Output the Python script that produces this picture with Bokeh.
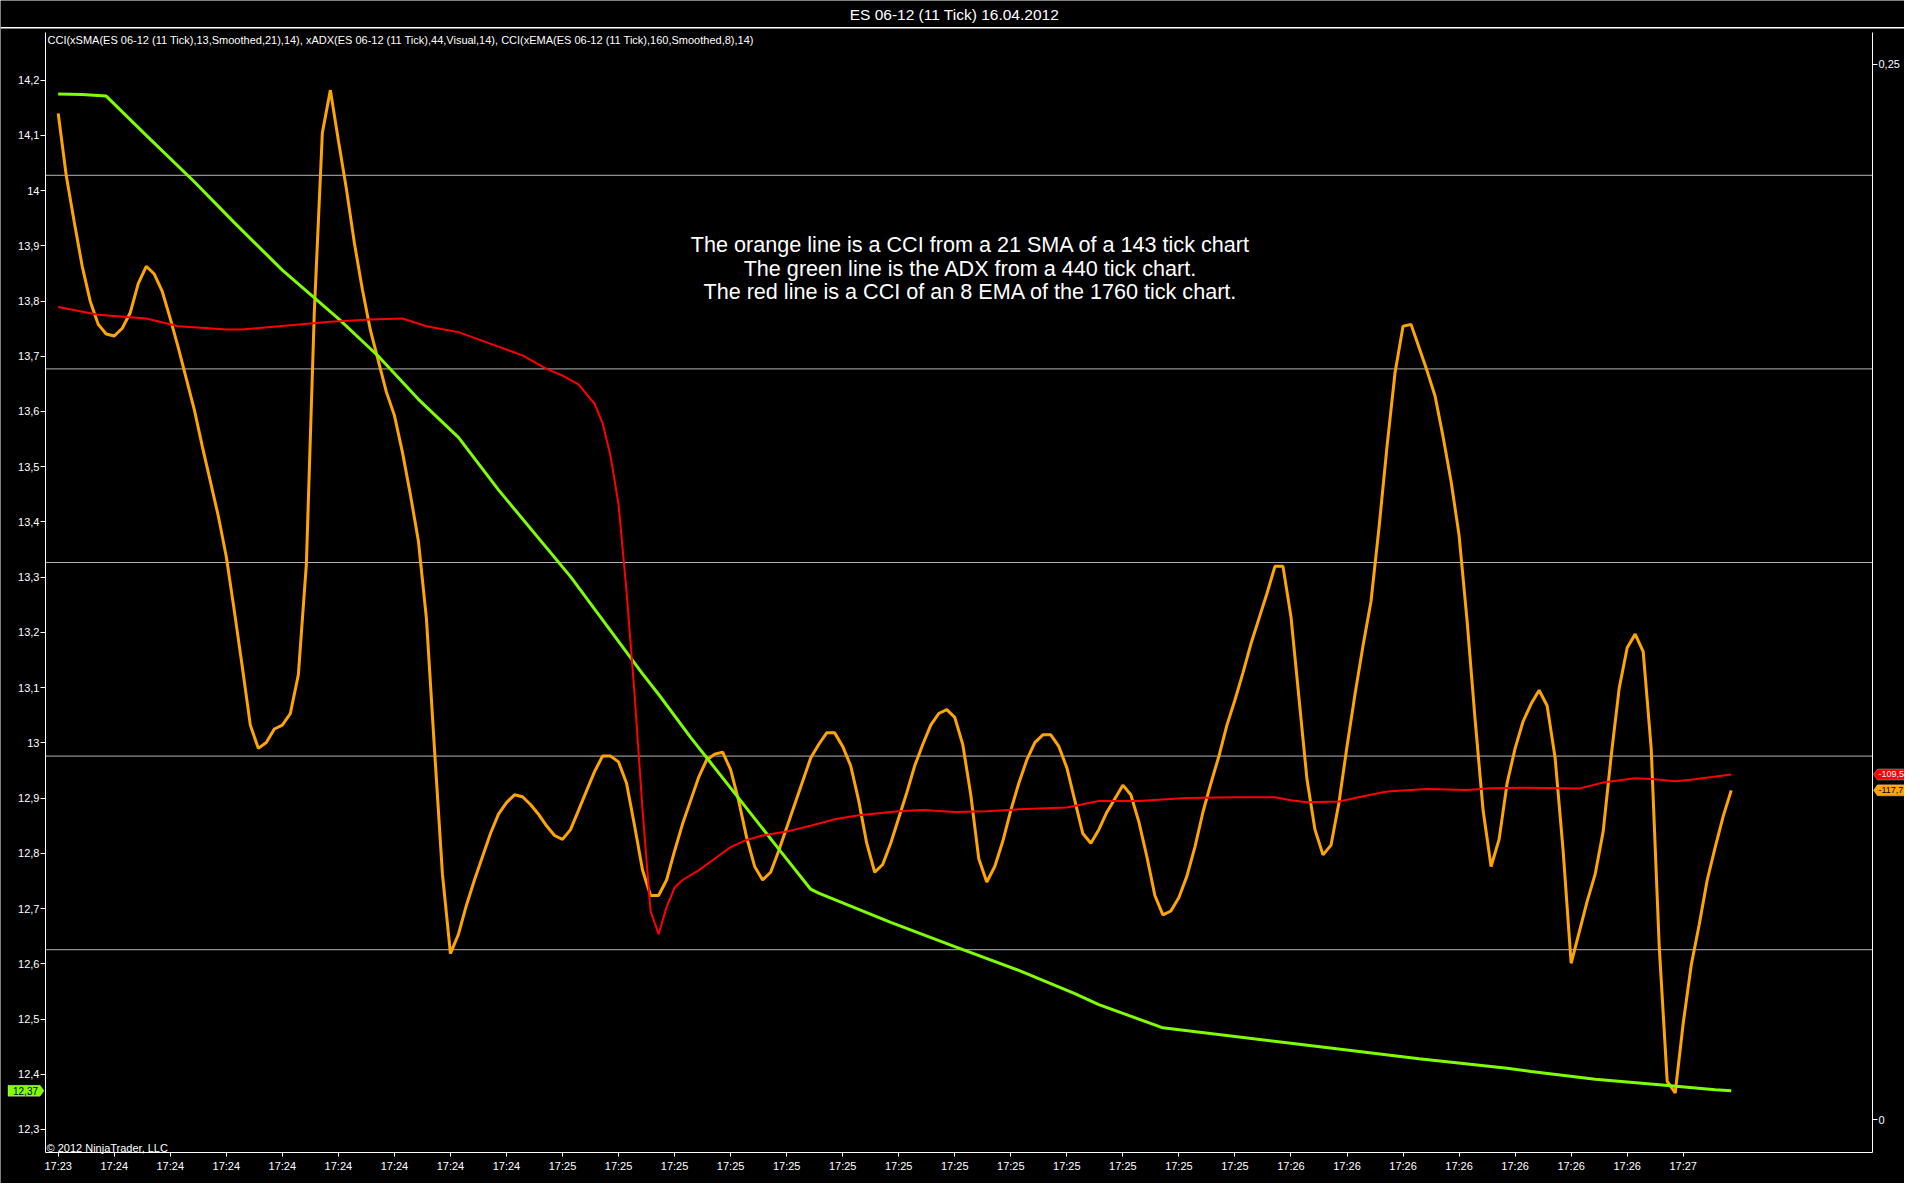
from bokeh.plotting import figure
from bokeh.models import (Range1d, LinearAxis, FixedTicker, CustomJSTickFormatter,
                          Span, Label, PolyAnnotation)
from bokeh.embed import file_html
from bokeh.resources import INLINE

# ---------------- data ----------------
bars = list(range(210))
orange_cci = [
    232, 200, 176, 153, 135, 123, 118, 117, 121, 129,
    144, 153, 149, 140, 126, 111, 95, 79, 60, 42,
    24, 3, -25, -54, -84, -96, -93, -86, -84, -78,
    -58, -1, 130, 222, 244, 218, 193, 165, 141, 120,
    104, 88, 76, 57, 35, 11, -29, -96, -161, -202,
    -192, -177, -164, -152, -140, -130, -124, -120, -121, -125,
    -130, -136, -141, -143, -138, -128, -118, -108, -100, -100,
    -103, -114, -136, -159, -172, -172, -164, -149, -135, -123,
    -111, -102, -99, -98, -107, -123, -142, -157, -164, -160,
    -149, -137, -125, -113, -101, -94, -88, -88, -95, -105,
    -123, -145, -160, -156, -145, -132, -119, -105, -94, -84,
    -78, -76, -80, -94, -120, -153, -165, -157, -144, -128,
    -114, -102, -93, -89, -89, -95, -106, -123, -140, -145,
    -138, -129, -122, -115, -120, -134, -152, -172, -182, -180,
    -173, -162, -147, -129, -114, -100, -84, -71, -57, -42,
    -29, -16, -2, -2, -28, -70, -112, -138, -151, -146,
    -124, -95, -68, -43, -20, 18, 60, 98, 122, 123,
    111, 99, 86, 65, 42, 14, -30, -81, -128, -157,
    -143, -114, -96, -82, -73, -66, -74, -101, -149, -207,
    -191, -175, -161, -139, -100, -65, -44, -37, -46, -96,
    -198, -268, -274, -238, -208, -187, -164, -147, -131, -117.7,
]

red_bars = [0, 5, 11, 15, 21, 23, 29, 34, 39, 43, 46, 50, 55, 58, 61, 63, 65, 67,
            68, 69, 70, 71, 72, 73, 74, 75, 76, 77, 78, 80, 82, 84, 86, 88, 91, 94,
            97, 100, 105, 108, 112, 116, 120, 126, 130, 135, 141, 147, 152, 154, 156,
            160, 162, 166, 171, 176, 179, 183, 190, 193, 197, 199, 202, 204, 209]
red_cci = [132, 128, 126, 122, 120.4, 120.4, 122.5, 124.3, 125.5, 126, 122, 119, 111.5,
           107, 100, 96.5, 92, 82, 72, 55, 30, -15, -68, -128, -180, -192, -178, -168,
           -164, -159, -153, -147, -143.3, -141, -139, -136, -132.6, -130.6, -128.5,
           -127.8, -128.9, -128.5, -127.5, -126.5, -123.2, -123.2, -121.6, -121.2,
           -121.2, -122.8, -123.8, -123.4, -121.6, -118.3, -117, -117.5, -116.6, -116.3,
           -116.8, -113.6, -111.4, -111.8, -113, -112.2, -109.5]

green_bars = [0, 3, 6, 11, 17, 22, 28, 35, 40, 45, 50, 55, 64, 73, 75, 79, 85, 90, 94,
              95, 104, 112, 120, 127, 130, 138, 154, 170, 181, 184, 192, 200, 207, 209]
green_adx = [14.175, 14.174, 14.171, 14.100, 14.016, 13.942, 13.856, 13.768, 13.700,
             13.622, 13.553, 13.458, 13.301, 13.125, 13.088, 13.010, 12.900, 12.808,
             12.735, 12.728, 12.675, 12.631, 12.588, 12.546, 12.526, 12.484, 12.456,
             12.428, 12.411, 12.405, 12.391, 12.381, 12.372, 12.370]

tick_bars = list(range(0, 204, 7))
time_labels = (["17:23"] + ["17:24"] * 8 + ["17:25"] * 13 + ["17:26"] * 7 + ["17:27"])
left_ticks = [12.3, 12.4, 12.5, 12.6, 12.7, 12.8, 12.9, 13.0, 13.1, 13.2,
              13.3, 13.4, 13.5, 13.6, 13.7, 13.8, 13.9, 14.0, 14.1, 14.2]
right_ticks = [0, 0.25]
cci_levels = [200, 100, 0, -100, -200]

title_text = "ES 06-12 (11 Tick)  16.04.2012"
header_text = ("CCI(xSMA(ES 06-12 (11 Tick),13,Smoothed,21),14), "
               "xADX(ES 06-12 (11 Tick),44,Visual,14), "
               "CCI(xEMA(ES 06-12 (11 Tick),160,Smoothed,8),14)")
note_lines = ["The orange line is a CCI from a 21 SMA of a 143 tick chart",
              "The green line is the ADX from a 440 tick chart.",
              "The red line is a CCI of an 8 EMA of the 1760 tick chart."]
copyright_text = "\u00a9 2012 NinjaTrader, LLC"

# ---------------- layout (pixels of the page) ----------------
FONT = "Liberation Sans"
ORANGE = "#FFA500"
RED = "#FF0000"
GREEN = "#7FFF00"
W, H = 1904, 1183
X0_PX, PX_PER_BAR = 57.7, 8.005          # bar 0 position, bar spacing
L_REF, L_PX, L_PX_UNIT = 14.2, 79.6, 552.3  # left axis
C_ZERO_PX, C_PX_UNIT = 562.0, 1.936       # CCI panel scale
R_ZERO_PX, R_PX_UNIT = 1119.2, 4222.0     # right axis scale


def bx(px):
    return (px - X0_PX) / PX_PER_BAR


def ly(py):
    return L_REF - (py - L_PX) / L_PX_UNIT


def cy(py):
    return (C_ZERO_PX - py) / C_PX_UNIT


def ry(py):
    return (R_ZERO_PX - py) / R_PX_UNIT


AX_L, AX_R, AX_T, AX_B = 45, 1872, 32.3, 1152.3

p = figure(width=W, height=H, output_backend="svg", toolbar_location=None,
           x_range=Range1d(bx(0), bx(W)), y_range=Range1d(ly(H), ly(0)),
           min_border=0, min_border_left=0, min_border_right=0, min_border_top=0,
           min_border_bottom=0, background_fill_color="black",
           border_fill_color="black", outline_line_color=None,
           x_axis_location=None, y_axis_location=None)
p.extra_y_ranges = {"cci": Range1d(cy(H), cy(0)), "right": Range1d(ry(H), ry(0))}
p.xgrid.visible = False
p.ygrid.visible = False


def style_axis(ax, standoff, tick_out=5):
    ax.axis_line_color = "white"
    ax.major_tick_line_color = "white"
    ax.major_tick_out = tick_out
    ax.major_tick_in = 0
    ax.minor_tick_out = 0
    ax.minor_tick_in = 0
    ax.major_label_text_color = "white"
    ax.major_label_text_font = FONT
    ax.major_label_text_font_size = "11px"
    ax.major_label_standoff = standoff


xax = LinearAxis(ticker=FixedTicker(ticks=tick_bars), fixed_location=ly(AX_B),
                 bounds=(bx(AX_L), bx(AX_R)))
xax.major_label_overrides = {b: t for b, t in zip(tick_bars, time_labels)}
style_axis(xax, 3, 4)
p.add_layout(xax, "below")

yax = LinearAxis(ticker=FixedTicker(ticks=left_ticks), fixed_location=bx(AX_L),
                 bounds=(ly(AX_B), ly(AX_T)),
                 formatter=CustomJSTickFormatter(code="""
    const s = tick.toFixed(1).replace('.', ',');
    return s.endsWith(',0') ? s.slice(0, -2) : s;"""))
style_axis(yax, 1)
p.add_layout(yax, "left")

rax = LinearAxis(y_range_name="right", ticker=FixedTicker(ticks=right_ticks),
                 fixed_location=bx(AX_R), bounds=(ry(AX_B), ry(AX_T)),
                 formatter=CustomJSTickFormatter(
                     code="return tick == 0 ? '0' : tick.toFixed(2).replace('.', ',');"))
style_axis(rax, 1)
p.add_layout(rax, "right")

# panel top border
p.add_layout(Span(location=ly(27.3), dimension="width", line_color="white", line_width=1.5))

# CCI level lines
p.segment(x0=[bx(AX_L)] * len(cci_levels), y0=cci_levels,
          x1=[bx(AX_R)] * len(cci_levels), y1=cci_levels, y_range_name="cci",
          line_color="#b4b4b4", line_width=1, level="underlay")

p.line(bars, orange_cci, y_range_name="cci", line_color=ORANGE, line_width=3)
p.line(green_bars, green_adx, line_color=GREEN, line_width=3)
p.line(red_bars, red_cci, y_range_name="cci", line_color=RED, line_width=2)


# ---------------- texts ----------------
def label(x, y_px, text, size, align="left", color="white"):
    p.add_layout(Label(x=x, y=H - y_px, x_units="screen", y_units="screen",
                       text=text, text_color=color, text_font=FONT,
                       text_font_size=size, text_align=align, text_baseline="middle"))


label(956, 13.5, title_text, "15.5px", "center")
label(47, 39, header_text, "11px")
label(46, 1147.5, copyright_text, "11px")
for i, line in enumerate(note_lines):
    label(970, 243.7 + i * 23.85, line, "21.6px", "center")


# ---------------- last-value markers ----------------
def fmt(v, nd):
    return f"{v:.{nd}f}".replace(".", ",")


def right_marker(v, fill, txt_color):
    sy = H - (C_ZERO_PX - v * C_PX_UNIT)   # marker centre, screen units (from bottom)
    h = 5.5
    p.add_layout(PolyAnnotation(xs=[AX_R + 1, AX_R + 5, W + 10, W + 10, AX_R + 5],
                                ys=[sy, sy + h, sy + h, sy - h, sy - h],
                                xs_units="screen", ys_units="screen",
                                fill_color=fill, fill_alpha=1.0,
                                line_color="white", line_width=1))
    p.add_layout(Label(x=AX_R + 6, y=sy, x_units="screen", y_units="screen",
                       text=fmt(v, 1), text_color=txt_color,
                       text_font=FONT, text_font_size="9px",
                       text_align="left", text_baseline="middle"))


right_marker(red_cci[-1], RED, "white")
right_marker(orange_cci[-1], ORANGE, "black")

g = green_adx[-1]
gh = 5.5 / L_PX_UNIT
p.add_layout(PolyAnnotation(xs=[AX_L - 1.5, AX_L - 5.5, 7.5, 7.5, AX_L - 5.5],
                            ys=[g, g + gh, g + gh, g - gh, g - gh],
                            xs_units="screen", ys_units="data",
                            fill_color=GREEN, fill_alpha=1.0,
                            line_color="white", line_width=1))
p.add_layout(Label(x=12.5, y=g, x_units="screen", y_units="data", text=fmt(g, 2),
                   text_color="black", text_font=FONT, text_font_size="10px",
                   text_align="left", text_baseline="middle"))

open("out.html", "w").write(file_html(p, INLINE))
